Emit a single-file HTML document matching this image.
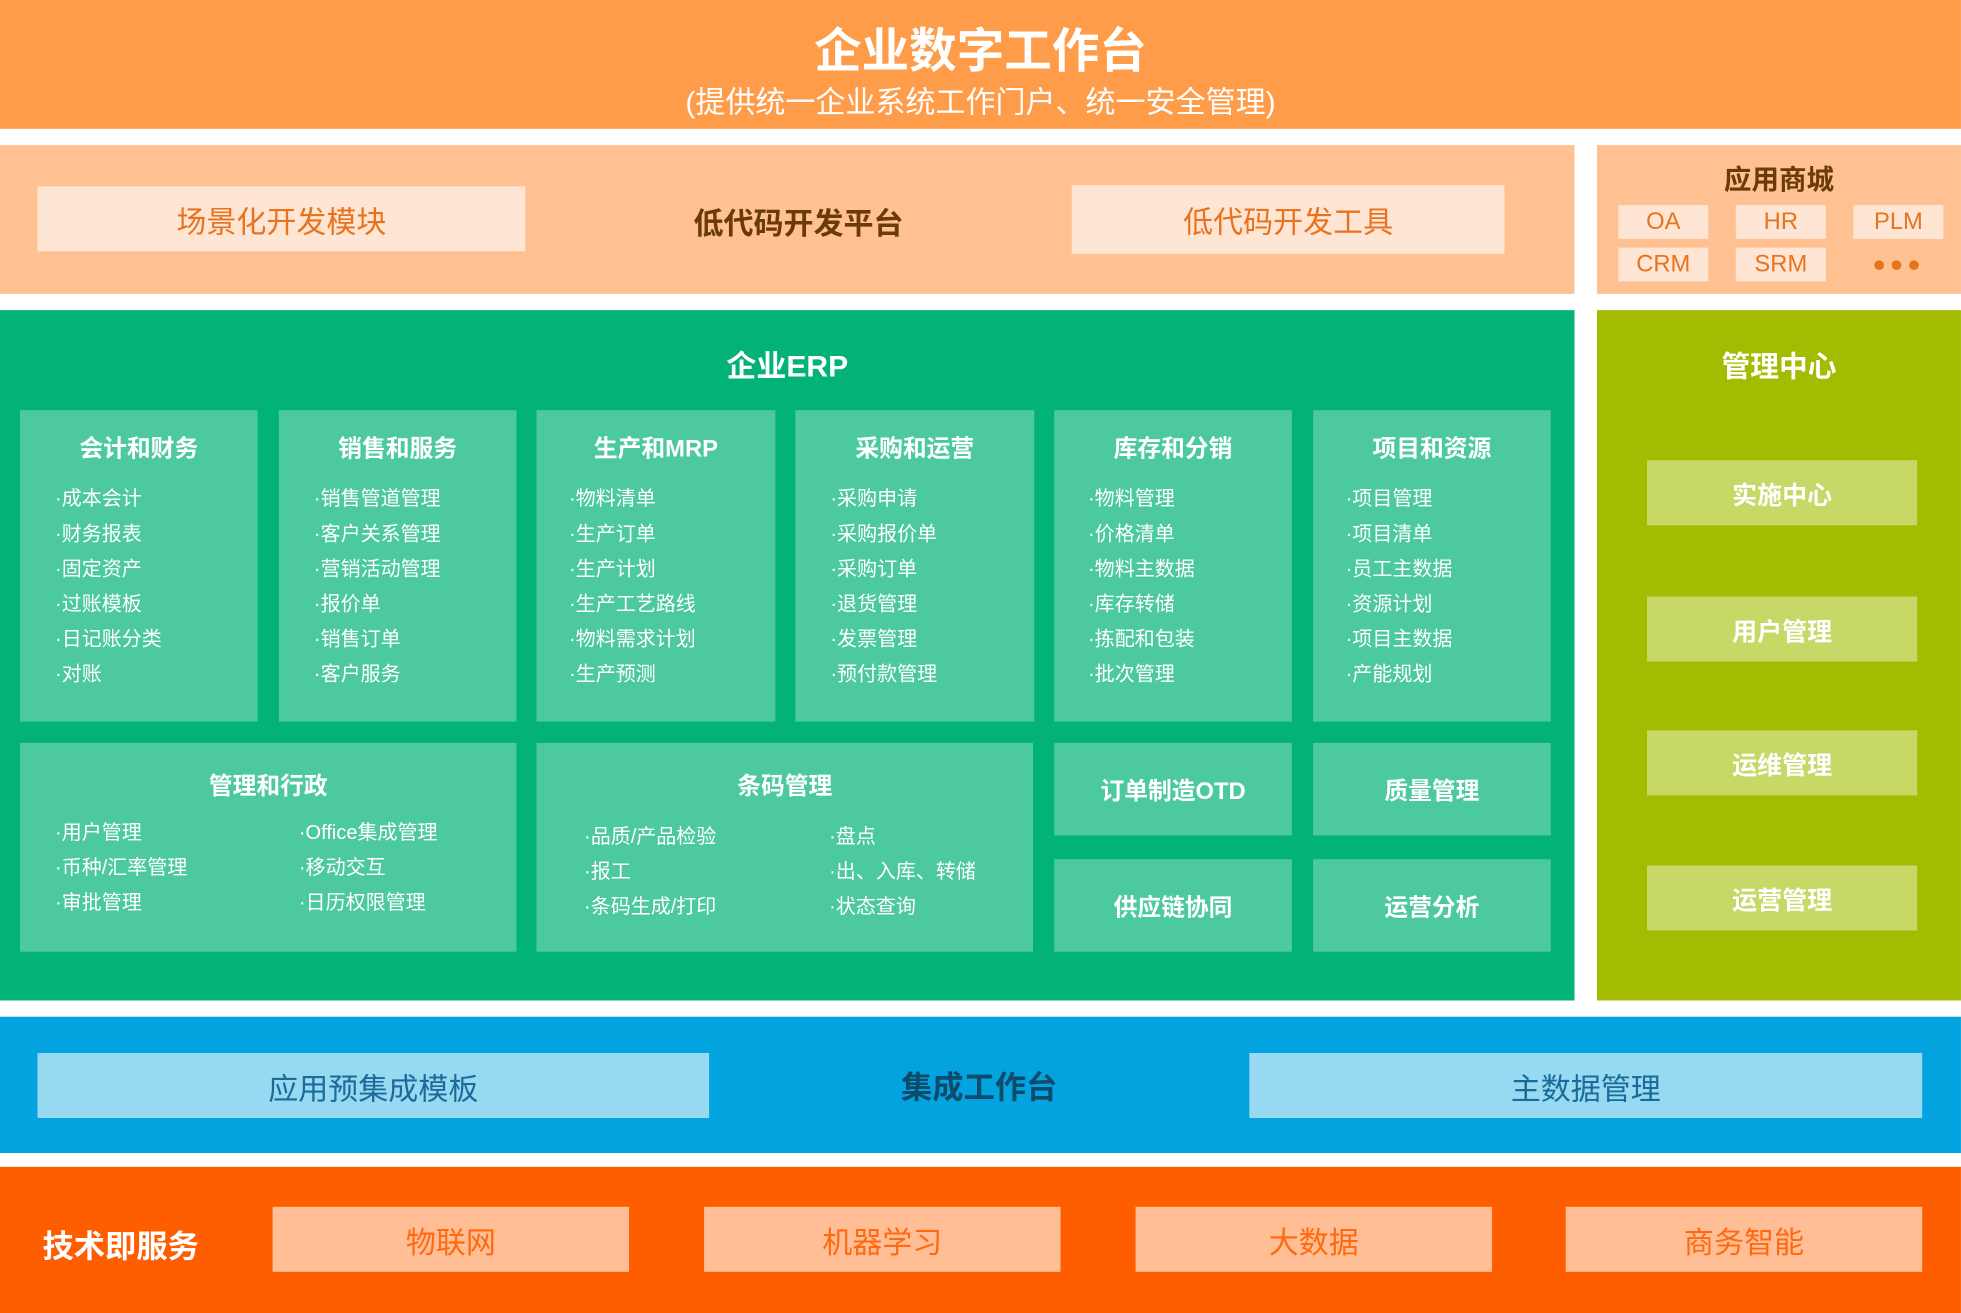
<!DOCTYPE html>
<html><head><meta charset="utf-8"><style>
*{margin:0;padding:0;box-sizing:border-box}
html,body{width:1961px;height:1312px;overflow:hidden;background:#fff}
#w{position:absolute;left:0;top:0;width:1568px;height:1050px;transform:scale(1.2506);transform-origin:0 0;font-family:"Liberation Sans","Noto Sans CJK SC",sans-serif}
.a{position:absolute}
.c{display:flex;align-items:center;justify-content:center}
.card{position:absolute;background:#4DC99F;color:#fff}
.card h4{position:absolute;left:0;right:0;top:16px;text-align:center;font-size:19px;font-weight:bold}
.it{position:absolute;font-size:16px;line-height:28px}
.mg{position:absolute;left:1317px;width:216px;height:52px;background:#C8D867;color:#fff;font-weight:bold;font-size:20px}
.ap{position:absolute;width:72px;height:27px;background:#FFE5D3;color:#E8731F;font-size:19px}
.tb{position:absolute;top:965px;width:285px;height:52px;background:#FFBE96;color:#FF6A10;font-size:24px}
</style></head><body><div id="w">
<div class="a" style="left:0;top:0;width:1568px;height:103px;background:#FF9C4A"></div>
<div class="a" style="left:0;top:10px;width:1568px;text-align:center;color:#fff;font-size:38px;font-weight:bold">企业数字工作台</div>
<div class="a" style="left:0;top:62px;width:1568px;text-align:center;color:#fff;font-size:24px">(提供统一企业系统工作门户、统一安全管理)</div>

<div class="a" style="left:0;top:116px;width:1259px;height:119px;background:#FFC191"></div>
<div class="a c" style="left:30px;top:149px;width:390px;height:52px;background:#FFE5D3;color:#E8731F;font-size:24px">场景化开发模块</div>
<div class="a c" style="left:420px;top:149px;width:437px;height:54px;color:#6B3A0A;font-size:24px;font-weight:bold">低代码开发平台</div>
<div class="a c" style="left:857px;top:148px;width:346px;height:55px;background:#FFE5D3;color:#E8731F;font-size:24px">低代码开发工具</div>

<div class="a" style="left:1277px;top:116px;width:291px;height:119px;background:#FFC191"></div>
<div class="a" style="left:1277px;top:126px;width:291px;text-align:center;color:#6B3A0A;font-size:22px;font-weight:bold">应用商城</div>
<div class="ap c" style="left:1294px;top:164px">OA</div>
<div class="ap c" style="left:1388px;top:164px">HR</div>
<div class="ap c" style="left:1482px;top:164px">PLM</div>
<div class="ap c" style="left:1294px;top:198px">CRM</div>
<div class="ap c" style="left:1388px;top:198px">SRM</div>
<div class="a c" style="left:1482px;top:198px;width:72px;height:27px;color:#E8731F;font-size:18px;letter-spacing:3px">●●●</div>

<div class="a" style="left:0;top:248px;width:1259px;height:552px;background:#02B276"></div>
<div class="a" style="left:0;top:273px;width:1259px;text-align:center;color:#fff;font-size:24px;font-weight:bold">企业ERP</div>

<div class="card" style="left:16px;top:328px;width:190px;height:249px"><h4>会计和财务</h4><div class="it" style="left:28px;top:58px">·成本会计<br>·财务报表<br>·固定资产<br>·过账模板<br>·日记账分类<br>·对账</div></div>
<div class="card" style="left:223px;top:328px;width:190px;height:249px"><h4>销售和服务</h4><div class="it" style="left:28px;top:58px">·销售管道管理<br>·客户关系管理<br>·营销活动管理<br>·报价单<br>·销售订单<br>·客户服务</div></div>
<div class="card" style="left:429px;top:328px;width:191px;height:249px"><h4>生产和MRP</h4><div class="it" style="left:26px;top:58px">·物料清单<br>·生产订单<br>·生产计划<br>·生产工艺路线<br>·物料需求计划<br>·生产预测</div></div>
<div class="card" style="left:636px;top:328px;width:191px;height:249px"><h4>采购和运营</h4><div class="it" style="left:28px;top:58px">·采购申请<br>·采购报价单<br>·采购订单<br>·退货管理<br>·发票管理<br>·预付款管理</div></div>
<div class="card" style="left:843px;top:328px;width:190px;height:249px"><h4>库存和分销</h4><div class="it" style="left:27px;top:58px">·物料管理<br>·价格清单<br>·物料主数据<br>·库存转储<br>·拣配和包装<br>·批次管理</div></div>
<div class="card" style="left:1050px;top:328px;width:190px;height:249px"><h4>项目和资源</h4><div class="it" style="left:26px;top:58px">·项目管理<br>·项目清单<br>·员工主数据<br>·资源计划<br>·项目主数据<br>·产能规划</div></div>

<div class="card" style="left:16px;top:594px;width:397px;height:167px"><h4 style="top:20px">管理和行政</h4><div class="it" style="left:28px;top:59px">·用户管理<br>·币种/汇率管理<br>·审批管理</div><div class="it" style="left:223px;top:59px">·Office集成管理<br>·移动交互<br>·日历权限管理</div></div>
<div class="card" style="left:429px;top:594px;width:397px;height:167px"><h4 style="top:20px">条码管理</h4><div class="it" style="left:38px;top:62px">·品质/产品检验<br>·报工<br>·条码生成/打印</div><div class="it" style="left:234px;top:62px">·盘点<br>·出、入库、转储<br>·状态查询</div></div>
<div class="card c" style="left:843px;top:594px;width:190px;height:74px;font-size:19px;font-weight:bold">订单制造OTD</div>
<div class="card c" style="left:1050px;top:594px;width:190px;height:74px;font-size:19px;font-weight:bold">质量管理</div>
<div class="card c" style="left:843px;top:687px;width:190px;height:74px;font-size:19px;font-weight:bold">供应链协同</div>
<div class="card c" style="left:1050px;top:687px;width:190px;height:74px;font-size:19px;font-weight:bold">运营分析</div>

<div class="a" style="left:1277px;top:248px;width:291px;height:552px;background:#A3BC02"></div>
<div class="a" style="left:1277px;top:274px;width:291px;text-align:center;color:#fff;font-size:23px;font-weight:bold">管理中心</div>
<div class="mg c" style="top:368px">实施中心</div>
<div class="mg c" style="top:477px">用户管理</div>
<div class="mg c" style="top:584px">运维管理</div>
<div class="mg c" style="top:692px">运营管理</div>

<div class="a" style="left:0;top:813px;width:1568px;height:109px;background:#03A3E0"></div>
<div class="a c" style="left:30px;top:842px;width:537px;height:52px;background:#98D9F2;color:#1A6A9A;font-size:24px">应用预集成模板</div>
<div class="a c" style="left:567px;top:842px;width:432px;height:52px;color:#0D4A6B;font-size:25px;font-weight:bold">集成工作台</div>
<div class="a c" style="left:999px;top:842px;width:538px;height:52px;background:#98D9F2;color:#1A6A9A;font-size:24px">主数据管理</div>

<div class="a" style="left:0;top:933px;width:1568px;height:117px;background:#FF5E00"></div>
<div class="a" style="left:34px;top:977px;color:#fff;font-size:25px;font-weight:bold">技术即服务</div>
<div class="tb c" style="left:218px">物联网</div>
<div class="tb c" style="left:563px">机器学习</div>
<div class="tb c" style="left:908px">大数据</div>
<div class="tb c" style="left:1252px">商务智能</div>
</div></body></html>
